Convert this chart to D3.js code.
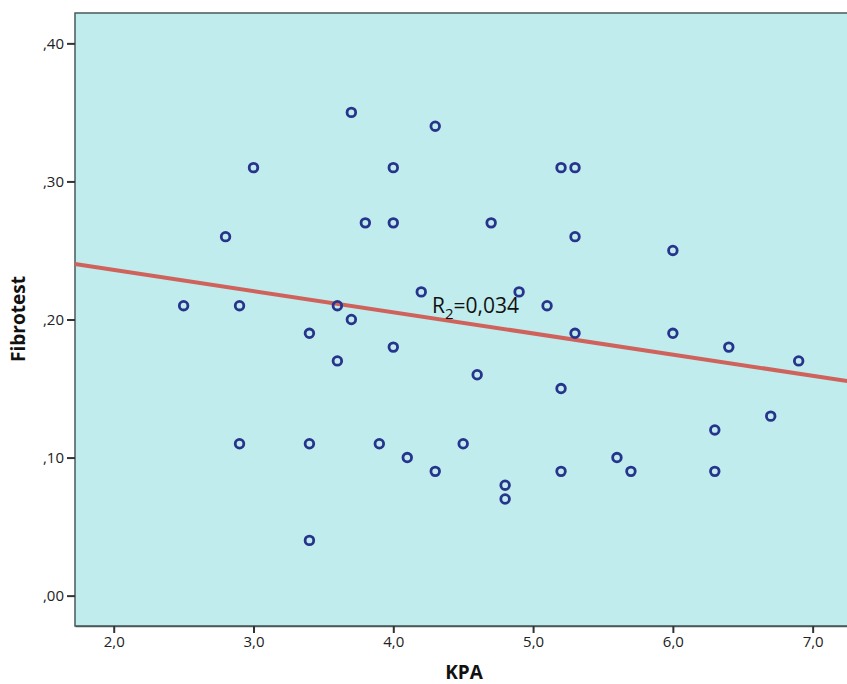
<!DOCTYPE html>
<html>
<head>
<meta charset="utf-8">
<script src="https://cdn.jsdelivr.net/npm/d3@7"></script>
<style>
  body { margin: 0; background: #fff; }
  svg { display: block; }
</style>
</head>
<body>
<div class="chart"></div>
<script>
// KPA (x) vs Fibrotest (y)
const kpa = [2.5, 2.8, 2.9, 2.9, 3.0, 3.4, 3.4, 3.4, 3.6, 3.6, 3.7, 3.7, 3.8, 3.9,
  4.0, 4.0, 4.0, 4.1, 4.2, 4.3, 4.3, 4.5, 4.6, 4.7, 4.8, 4.8, 4.9, 5.1, 5.2, 5.2,
  5.2, 5.3, 5.3, 5.3, 5.6, 5.7, 6.0, 6.0, 6.3, 6.3, 6.4, 6.7, 6.9];
const fibrotest = [0.21, 0.26, 0.21, 0.11, 0.31, 0.19, 0.11, 0.04, 0.21, 0.17, 0.35, 0.20, 0.27, 0.11,
  0.31, 0.27, 0.18, 0.10, 0.22, 0.34, 0.09, 0.11, 0.16, 0.27, 0.08, 0.07, 0.22, 0.21, 0.31, 0.15,
  0.09, 0.31, 0.26, 0.19, 0.10, 0.09, 0.25, 0.19, 0.12, 0.09, 0.18, 0.13, 0.17];
const xTicks = [2, 3, 4, 5, 6, 7];
const yTicks = [0, 0.1, 0.2, 0.3, 0.4];
// fit line
const fitIntercept = 0.2666;
const fitSlope = -0.01534;
const r2Label = "0,034";

const width = 847, height = 684;
const margin = { top: 13, right: -2, bottom: 58, left: 75 };

const xScale = d3.scaleLinear()
  .domain([1.723, 7.26])
  .range([margin.left, width - margin.right]);

const yScale = d3.scaleLinear()
  .domain([-0.022, 0.422])
  .range([height - margin.bottom, margin.top]);

const comma = d => d3.format(".1f")(d).replace(".", ",");
const commaY = d => d3.format(".2f")(d).replace("0.", ",").replace(".", ",");

const svg = d3.select(".chart")
  .append("svg")
  .attr("width", width)
  .attr("height", height);

svg.append("rect")
  .attr("x", xScale.range()[0])
  .attr("y", yScale.range()[1])
  .attr("width", xScale.range()[1] - xScale.range()[0])
  .attr("height", yScale.range()[0] - yScale.range()[1])
  .attr("fill", "#c0ecee")
  .attr("stroke", "#4a5a5a")
  .attr("stroke-width", 1.5);

// fit line
const xd = xScale.domain();
svg.append("line")
  .attr("x1", xScale(xd[0]))
  .attr("y1", yScale(fitIntercept + fitSlope * xd[0]))
  .attr("x2", xScale(xd[1]))
  .attr("y2", yScale(fitIntercept + fitSlope * xd[1]))
  .attr("stroke", "#d0625c")
  .attr("stroke-width", 4);

svg.append("g")
  .selectAll("circle")
  .data(kpa.map((k, i) => [k, fibrotest[i]]))
  .join("circle")
  .attr("cx", d => xScale(d[0]))
  .attr("cy", d => yScale(d[1]))
  .attr("r", 4.3)
  .attr("fill", "none")
  .attr("stroke", "#27348b")
  .attr("stroke-width", 2.8);

const r2 = svg.append("text")
  .attr("x", 432)
  .attr("y", 313)
  .attr("font-family", "'Open Sans', sans-serif")
  .attr("font-size", 21)
  .attr("fill", "#111");
r2.append("tspan").text("R");
r2.append("tspan").attr("font-size", 15).attr("dy", 6).text("2");
r2.append("tspan").attr("dy", -6).text("=" + r2Label);

const xAxis = svg.append("g")
  .attr("transform", "translate(0," + yScale.range()[0] + ")")
  .call(d3.axisBottom(xScale).tickValues(xTicks).tickFormat(comma)
    .tickSize(7).tickSizeOuter(0).tickPadding(3));
xAxis.select(".domain").attr("stroke", "#4a5a5a").attr("stroke-width", 1.5);

const yAxis = svg.append("g")
  .attr("transform", "translate(" + xScale.range()[0] + ",0)")
  .call(d3.axisLeft(yScale).tickValues(yTicks).tickFormat(commaY).tickSize(8).tickPadding(3));
yAxis.select(".domain").remove();

svg.selectAll(".tick line").attr("stroke", "#333").attr("stroke-width", 2);
svg.selectAll(".tick text")
  .attr("font-family", "'Open Sans', sans-serif")
  .attr("font-size", 15)
  .attr("fill", "#222");

svg.append("text")
  .attr("x", 464)
  .attr("y", 679)
  .attr("text-anchor", "middle")
  .attr("font-family", "'Open Sans', sans-serif")
  .attr("font-weight", "bold")
  .attr("font-size", 19)
  .attr("fill", "#111")
  .text("KPA");

svg.append("text")
  .attr("transform", "translate(25,319) rotate(-90)")
  .attr("text-anchor", "middle")
  .attr("font-family", "'Open Sans', sans-serif")
  .attr("font-weight", "bold")
  .attr("font-size", 19)
  .attr("fill", "#111")
  .text("Fibrotest");
</script>
</body>
</html>
